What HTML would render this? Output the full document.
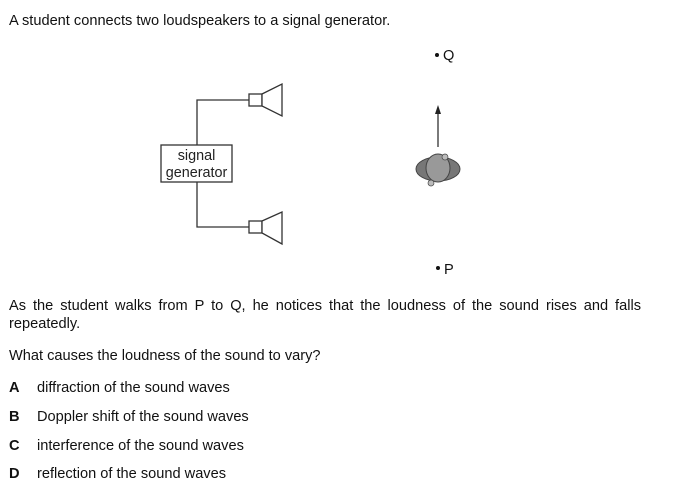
<!DOCTYPE html>
<html><head><style>
body{margin:0;width:687px;height:489px;background:#fff;position:relative;font-family:"Liberation Sans",Arial,sans-serif;font-size:14.6px;color:#111;overflow:hidden}
.t{position:absolute;left:9px;white-space:nowrap}
.b{font-weight:bold;position:absolute;left:9px}
.o{position:absolute;left:37px}
</style></head><body>
<div class="t" style="top:13px">A student connects two loudspeakers to a signal generator.</div>
<svg style="position:absolute;left:0;top:0" width="687" height="290">
<g stroke="#333" stroke-width="1.3" fill="none">
<polyline points="197,146 197,100 249,100"/>
<polyline points="197,182 197,227 249,227"/>
<rect x="249" y="94" width="13" height="12" fill="#fff"/>
<polygon points="262,94 282,84 282,116 262,106" fill="#fff"/>
<rect x="249" y="221" width="13" height="12" fill="#fff"/>
<polygon points="262,221 282,212 282,244 262,233" fill="#fff"/>
<rect x="161" y="145" width="71" height="37" fill="#fff"/>
<line x1="438" y1="147" x2="438" y2="112"/>
</g>
<polygon points="438,105 435,114 441,114" fill="#222"/>
<ellipse cx="438" cy="169" rx="22" ry="12" fill="#777" stroke="#444"/>
<ellipse cx="438" cy="168" rx="12" ry="14" fill="#999" stroke="#444"/>
<circle cx="445" cy="157" r="3" fill="#bbb" stroke="#444" stroke-width=".7"/>
<circle cx="431" cy="183" r="3" fill="#bbb" stroke="#444" stroke-width=".7"/>
<circle cx="437" cy="55" r="2" fill="#111"/>
<circle cx="438" cy="268" r="2" fill="#111"/>
<text x="443" y="60" font-family="Liberation Sans" font-size="14.6" fill="#111">Q</text>
<text x="444" y="274" font-family="Liberation Sans" font-size="14.6" fill="#111">P</text>
<text x="196.5" y="160" text-anchor="middle" font-family="Liberation Sans" font-size="14.4" fill="#222">signal</text>
<text x="196.5" y="177" text-anchor="middle" font-family="Liberation Sans" font-size="14.4" fill="#222">generator</text>
</svg>
<div class="t" style="top:298px;width:632px;white-space:normal;text-align:justify;text-align-last:justify">As the student walks from P to Q, he notices that the loudness of the sound rises and falls</div>
<div class="t" style="top:316px">repeatedly.</div>
<div class="t" style="top:348px">What causes the loudness of the sound to vary?</div>
<div class="b" style="top:380px">A</div><div class="o" style="top:380px">diffraction of the sound waves</div>
<div class="b" style="top:409px">B</div><div class="o" style="top:409px">Doppler shift of the sound waves</div>
<div class="b" style="top:438px">C</div><div class="o" style="top:438px">interference of the sound waves</div>
<div class="b" style="top:466px">D</div><div class="o" style="top:466px">reflection of the sound waves</div>
</body></html>
